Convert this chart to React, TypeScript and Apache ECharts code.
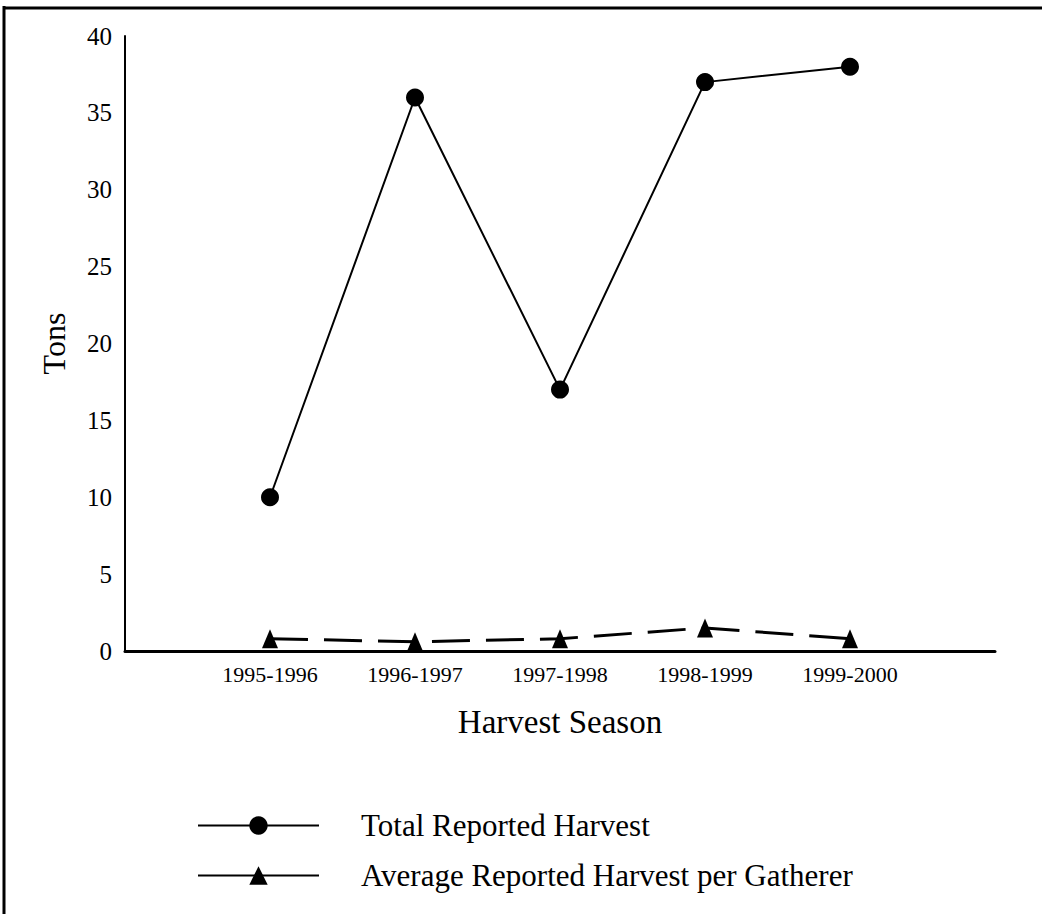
import React, { useEffect, useRef } from "react";
import * as echarts from "echarts";

const seasons = ["1995-1996", "1996-1997", "1997-1998", "1998-1999", "1999-2000"];
const totalHarvest = [10, 36, 17, 37, 38];
const avgPerGatherer = [0.8, 0.6, 0.8, 1.5, 0.8];
const seriesNames = ["Total Reported Harvest", "Average Reported Harvest per Gatherer"];

const FONT = "'Liberation Serif', 'DejaVu Serif', serif";

export default function App() {
  const ref = useRef<HTMLDivElement>(null);
  useEffect(() => {
    if (!ref.current) return;
    const chart = echarts.init(ref.current, undefined, { renderer: "svg" });
    const cats = ["", ...seasons, ""];
    const pad = (arr: number[]) => ["-", ...arr, "-"];
    chart.setOption({
      animation: false,
      backgroundColor: "#ffffff",
      textStyle: { fontFamily: FONT, color: "#000" },
      grid: { left: 125, right: 47, top: 36, bottom: 263, containLabel: false },
      xAxis: {
        type: "category",
        data: cats,
        boundaryGap: false,
        axisLine: { lineStyle: { color: "#000", width: 3 } },
        axisTick: { show: false },
        axisLabel: { color: "#000", fontSize: 22, fontFamily: FONT, margin: 12, interval: 0 },
        name: "Harvest Season",
        nameLocation: "middle",
        nameGap: 54,
        nameMoveOverlap: false,
        nameTextStyle: { color: "#000", fontSize: 33, fontFamily: FONT },
        splitLine: { show: false },
      },
      yAxis: {
        type: "value",
        min: 0,
        max: 40,
        interval: 5,
        axisLine: { show: true, lineStyle: { color: "#000", width: 2 } },
        axisTick: { show: false },
        splitLine: { show: false },
        axisLabel: { color: "#000", fontSize: 25, fontFamily: FONT, margin: 13 },
        name: "Tons",
        nameLocation: "middle",
        nameGap: 55,
        nameMoveOverlap: false,
        nameTextStyle: { color: "#000", fontSize: 32, fontFamily: FONT },
      },
      legend: {
        orient: "vertical",
        left: 192,
        top: 805,
        itemWidth: 121,
        itemHeight: 23,
        itemGap: 19,
        data: seriesNames,
        lineStyle: { type: "solid", width: 2 },
        textStyle: {
          color: "#000",
          fontSize: 31,
          lineHeight: 31,
          fontFamily: FONT,
          padding: [0, 0, 0, 37],
        },
      },
      series: [
        {
          name: seriesNames[0],
          type: "line",
          data: pad(totalHarvest),
          symbol: "circle",
          symbolSize: 18,
          itemStyle: { color: "#000" },
          lineStyle: { color: "#000", width: 2 },
        },
        {
          name: seriesNames[1],
          type: "line",
          data: pad(avgPerGatherer),
          symbol: "triangle",
          symbolSize: [16, 19],
          itemStyle: { color: "#000" },
          lineStyle: { color: "#000", width: 3, type: [38, 16] },
        },
      ],
      graphic: [
        { type: "line", shape: { x1: 4, y1: 6, x2: 4, y2: 914 }, style: { stroke: "#000", lineWidth: 3 } },
        { type: "line", shape: { x1: 4, y1: 8, x2: 1042, y2: 8 }, style: { stroke: "#000", lineWidth: 3 } },
      ],
    });
    return () => chart.dispose();
  }, []);
  return (
    <div
      ref={ref}
      style={{ position: "fixed", left: 0, top: 0, width: 1042, height: 914, background: "#fff" }}
    />
  );
}
